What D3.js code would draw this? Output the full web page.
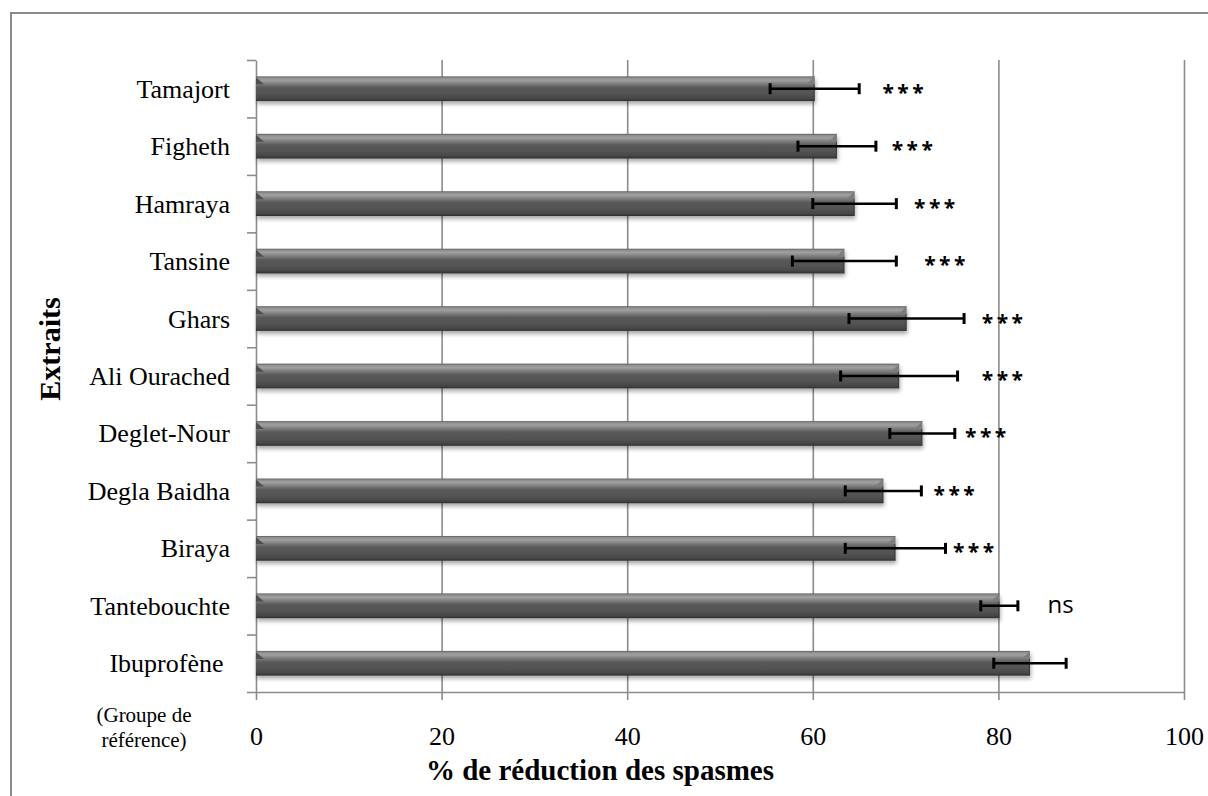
<!DOCTYPE html>
<html>
<head>
<meta charset="utf-8">
<script src="https://cdn.jsdelivr.net/npm/d3@7"></script>
<style>
  html, body { margin: 0; padding: 0; background: #fff; }
  svg { display: block; }
</style>
</head>
<body>
<svg id="chart" width="1208" height="796"></svg>
<script>
// ---- data ----
const categories = ["Tamajort", "Figheth", "Hamraya", "Tansine", "Ghars", "Ali Ourached",
  "Deglet-Nour", "Degla Baidha", "Biraya", "Tantebouchte", "Ibuprofène\u00a0"];
const values = [60.2, 62.6, 64.5, 63.4, 70.1, 69.3, 71.8, 67.6, 68.9, 80.1, 83.4];
const errors = [4.8, 4.2, 4.5, 5.6, 6.2, 6.3, 3.5, 4.1, 5.4, 2.0, 3.9];
const signif = ["***", "***", "***", "***", "***", "***", "***", "***", "***", "ns", ""];
const signifPos = [67.5, 68.5, 70.9, 72.0, 78.2, 78.2, 76.4, 73.0, 75.1, 85.3, 0];
const xTicks = [0, 20, 40, 60, 80, 100];
const xTitle = "% de réduction des spasmes";
const yTitle = "Extraits";
const refNote = ["(Groupe de", "référence)"];

(function () {
// ---- layout ----
const svg = d3.select("#chart");
const pL = 256, pR = 1184, pT = 60, pB = 692;
const serif = "'Liberation Serif', 'Times New Roman', serif";
const sans = "'Open Sans', 'Liberation Sans', sans-serif";
const gridColor = "#8c8c8c";

const x = d3.scaleLinear().domain([0, 100]).range([pL, pR]);
const y = d3.scaleBand().domain(categories).range([pT, pB])
  .paddingInner(0.57).paddingOuter(0.285);
const idx = d3.scaleLinear().domain([0, categories.length]).range([pT, pB]);

// defs
const defs = svg.append("defs");
const grad = defs.append("linearGradient").attr("id", "barGrad")
  .attr("x1", 0).attr("y1", 0).attr("x2", 0).attr("y2", 1);
[[0, "#5a5a5a"], [0.06, "#8e8e8e"], [0.16, "#a0a0a0"], [0.28, "#828282"],
 [0.45, "#5a5a5a"], [0.75, "#515151"], [0.9, "#464646"], [1, "#2f2f2f"]]
  .forEach(([o, c]) => grad.append("stop").attr("offset", o).attr("stop-color", c));
const shadow = defs.append("filter").attr("id", "shadow")
  .attr("x", "-5%").attr("y", "-30%").attr("width", "110%").attr("height", "190%");
shadow.append("feGaussianBlur").attr("in", "SourceAlpha").attr("stdDeviation", 2.2).attr("result", "b");
shadow.append("feOffset").attr("in", "b").attr("dx", 1).attr("dy", 3).attr("result", "o");
shadow.append("feComponentTransfer").attr("in", "o").attr("result", "s")
  .append("feFuncA").attr("type", "linear").attr("slope", 0.35);
const merge = shadow.append("feMerge");
merge.append("feMergeNode").attr("in", "s");
merge.append("feMergeNode").attr("in", "SourceGraphic");

// outer chart border (cut at right and bottom)
svg.append("rect").attr("x", 11).attr("y", 13).attr("width", 1400).attr("height", 1000)
  .attr("fill", "none").attr("stroke", "#8a8a8a").attr("stroke-width", 2);

// gridlines
svg.append("g").attr("transform", `translate(0,${pB})`)
  .call(d3.axisBottom(x).tickValues(xTicks.filter(d => d > 0)).tickSize(-(pB - pT)).tickFormat(""))
  .call(g => g.select(".domain").remove())
  .call(g => g.selectAll("line").attr("stroke", gridColor).attr("stroke-width", 1.6));

// x axis
const xAxis = svg.append("g").attr("transform", `translate(0,${pB})`)
  .call(d3.axisBottom(x).tickValues(xTicks).tickSize(8).tickSizeOuter(0).tickPadding(0));
xAxis.select(".domain").attr("stroke", gridColor).attr("stroke-width", 1.6);
xAxis.selectAll(".tick line").attr("stroke", gridColor).attr("stroke-width", 1.6);
xAxis.selectAll(".tick text").attr("y", 53).attr("dy", 0)
  .attr("font-family", serif).attr("font-size", 26).attr("fill", "#000");

// y axis (ticks between categories)
const yAxis = svg.append("g").attr("transform", `translate(${pL},0)`)
  .call(d3.axisLeft(idx).tickValues(d3.range(categories.length + 1)).tickSize(9).tickSizeOuter(0).tickFormat(""));
yAxis.select(".domain").attr("stroke", gridColor).attr("stroke-width", 1.6);
yAxis.selectAll(".tick line").attr("stroke", gridColor).attr("stroke-width", 1.6);

// bars
const data = categories.map((c, i) => ({ c, v: values[i], e: errors[i], s: signif[i], sp: signifPos[i] }));
const bars = svg.append("g").selectAll("g").data(data).join("g");
bars.append("rect")
  .attr("x", x(0)).attr("y", d => y(d.c))
  .attr("width", d => x(d.v) - x(0)).attr("height", y.bandwidth())
  .attr("fill", "url(#barGrad)").attr("filter", "url(#shadow)");
// bevels
const bev = 8;
bars.append("polygon")
  .attr("points", d => {
    const x0 = x(0), t = y(d.c);
    return `${x0},${t + 1} ${x0 + bev},${t + bev} ${x0},${t + bev}`;
  }).attr("fill", "#4f4f4f");
bars.append("polygon")
  .attr("points", d => {
    const x1 = x(d.v), t = y(d.c);
    return `${x1},${t} ${x1},${t + bev} ${x1 - bev},${t + bev}`;
  }).attr("fill", "#7d7d7d");
bars.append("line")
  .attr("x1", d => x(d.v) - 0.5).attr("x2", d => x(d.v) - 0.5)
  .attr("y1", d => y(d.c) + bev).attr("y2", d => y(d.c) + y.bandwidth())
  .attr("stroke", "#3a3a3a").attr("stroke-width", 1);

// error bars
const eb = svg.append("g").attr("stroke", "#000");
const cy = d => y(d.c) + y.bandwidth() / 2;
eb.selectAll("line.h").data(data).join("line").attr("class", "h")
  .attr("x1", d => x(d.v - d.e)).attr("x2", d => x(d.v + d.e))
  .attr("y1", cy).attr("y2", cy).attr("stroke-width", 2.5);
eb.selectAll("line.l").data(data).join("line").attr("class", "l")
  .attr("x1", d => x(d.v - d.e)).attr("x2", d => x(d.v - d.e))
  .attr("y1", d => cy(d) - 5.5).attr("y2", d => cy(d) + 5.5).attr("stroke-width", 3);
eb.selectAll("line.r").data(data).join("line").attr("class", "r")
  .attr("x1", d => x(d.v + d.e)).attr("x2", d => x(d.v + d.e))
  .attr("y1", d => cy(d) - 5.5).attr("y2", d => cy(d) + 5.5).attr("stroke-width", 3);

// significance labels
svg.append("g").selectAll("text").data(data.filter(d => d.s)).join("text")
  .attr("x", d => x(d.sp))
  .attr("y", d => d.s === "ns" ? cy(d) + 7 : cy(d) + 11)
  .attr("font-family", sans)
  .attr("font-weight", d => d.s === "ns" ? 400 : 700)
  .attr("font-size", d => d.s === "ns" ? 24 : 21)
  .attr("letter-spacing", d => d.s === "ns" ? 0 : 3.5)
  .attr("fill", "#000")
  .text(d => d.s);

// category labels
svg.append("g").selectAll("text").data(categories).join("text")
  .attr("x", 230).attr("y", d => y(d) + y.bandwidth() / 2 + 9)
  .attr("text-anchor", "end").attr("font-family", serif).attr("font-size", 26)
  .attr("fill", "#000").style("white-space", "pre")
  .text(d => d);

// reference note
svg.append("text").attr("text-anchor", "middle")
  .attr("font-family", serif).attr("font-size", 21).attr("fill", "#000")
  .selectAll("tspan").data(refNote).join("tspan")
  .attr("x", 144).attr("y", (d, i) => 722 + i * 25).text(d => d);

// axis titles
svg.append("text").attr("x", 600).attr("y", 780).attr("text-anchor", "middle")
  .attr("font-family", serif).attr("font-weight", "bold").attr("font-size", 29)
  .attr("fill", "#000").text(xTitle);
svg.append("text").attr("transform", "translate(60,349) rotate(-90)")
  .attr("text-anchor", "middle").attr("font-family", serif).attr("font-weight", "bold")
  .attr("font-size", 30).attr("fill", "#000").text(yTitle);
})();
</script>
</body>
</html>
